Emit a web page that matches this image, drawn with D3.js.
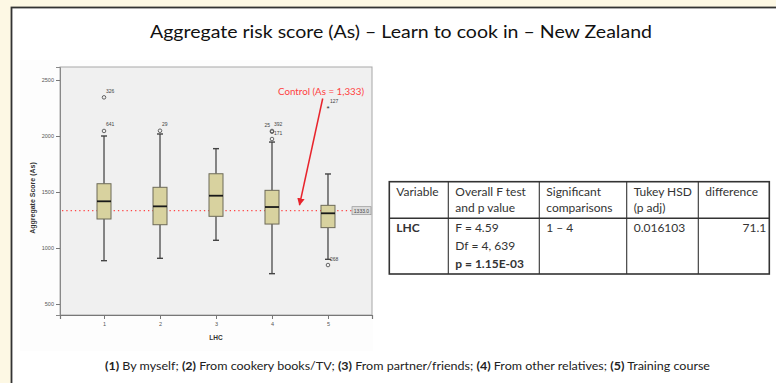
<!DOCTYPE html>
<html><head><meta charset="utf-8">
<script src="https://cdn.jsdelivr.net/npm/d3@7/dist/d3.min.js"></script>
<style>html,body{margin:0;padding:0;background:#fdf8e4;}svg{display:block;}</style>
</head><body>
<svg id="c" width="776" height="383"></svg>
<script>
// ---- data ----
const titleText = "Aggregate risk score (As) \u2013 Learn to cook in \u2013 New Zealand";
const categories = ["1", "2", "3", "4", "5"];
const q1 = [1259, 1208, 1283, 1214, 1182];
const medians = [1417, 1372, 1467, 1366, 1310];
const q3 = [1574, 1542, 1663, 1515, 1381];
const whiskerLow = [887, 908, 1069, 771, 899];
const whiskerHigh = [2000, 2018, 1887, 1946, 1661];
const outlierCats = ["1", "1", "2", "4", "4", "4", "5", "5"];
const outlierValues = [2345, 2045, 2047, 2045, 2038, 1973, 848, 2253];
const outlierLabels = ["326", "641", "29", "392", "25", "171", "268", "127"];
const outlierKinds = ["o", "o", "o", "o", "o", "o", "o", "*"];
const yTicks = [500, 1000, 1500, 2000, 2500];
const controlValue = 1333;
const controlLabel = "Control (As = 1,333)";
const yAxisTitle = "Aggregate Score (As)";
const xAxisTitle = "LHC";
const tableHeader = [["Variable"], ["Overall F test", "and p value"], ["Significant", "comparisons"], ["Tukey HSD", "(p adj)"], ["difference"]];
const tableRow = [["LHC"], ["F = 4.59", "Df = 4, 639", "p = 1.15E-03"], ["1 \u2013 4"], ["0.016103"], ["71.1"]];
const footerParts = [["(1)", " By myself; "], ["(2)", " From cookery books/TV; "], ["(3)", " From partner/friends; "], ["(4)", " From other relatives; "], ["(5)", " Training course"]];

// ---- drawing ----
(function () {
const svg = d3.select("#c");
const sans = "'Liberation Sans', Arial, sans-serif";
const cal = "Lato, 'Open Sans', sans-serif";

// panel
svg.append("rect").attr("x", 11.5).attr("y", 7.5).attr("width", 800).attr("height", 400)
  .attr("fill", "#ffffff").attr("stroke", "#333").attr("stroke-width", 1.8);
svg.append("rect").attr("x", 20).attr("y", 60).attr("width", 353).attr("height", 291).attr("fill", "#fdfdfd");

// title
svg.append("text").attr("x", 401).attr("y", 38).attr("text-anchor", "middle")
  .attr("font-family", cal).attr("font-size", 18).attr("fill", "#111")
  .attr("textLength", 502).attr("lengthAdjust", "spacingAndGlyphs").text(titleText);

const pLeft = 60, pRight = 372, pTop = 67, pBottom = 315;
const x = d3.scalePoint().domain(categories).range([pLeft, pRight]).padding(0.786);
const y = d3.scaleLinear().domain([402, 2616]).range([pBottom, pTop]);

svg.append("rect").attr("x", pLeft).attr("y", pTop).attr("width", pRight - pLeft).attr("height", pBottom - pTop)
  .attr("fill", "#f0f0f0").attr("stroke", "#a8a8a8").attr("stroke-width", 1);

// axes
const yAxis = svg.append("g").attr("transform", `translate(${pLeft},0)`)
  .call(d3.axisLeft(y).tickValues(yTicks).tickFormat(d3.format("d")).tickSize(4).tickPadding(2));
yAxis.select(".domain").attr("stroke", "#888");
yAxis.selectAll(".tick line").attr("stroke", "#777");
yAxis.selectAll("text").attr("font-family", sans).attr("font-size", 5.5).attr("fill", "#555");

const xAxis = svg.append("g").attr("transform", `translate(0,${pBottom})`)
  .call(d3.axisBottom(x).tickSize(4).tickPadding(3));
xAxis.select(".domain").attr("stroke", "#777").attr("stroke-width", 1.2);
xAxis.selectAll(".tick line").attr("stroke", "#777");
xAxis.selectAll("text").attr("font-family", sans).attr("font-size", 5.5).attr("fill", "#555");

svg.append("text").attr("transform", `translate(35,${(y(1000) + y(2000)) / 2 + 6}) rotate(-90)`)
  .attr("text-anchor", "middle").attr("font-family", sans).attr("font-weight", "bold")
  .attr("font-size", 7).attr("fill", "#333").text(yAxisTitle);
svg.append("text").attr("x", x("3")).attr("y", 340).attr("text-anchor", "middle")
  .attr("font-family", sans).attr("font-weight", "bold").attr("font-size", 6.5).attr("fill", "#333").text(xAxisTitle);

// control reference line
svg.append("line").attr("x1", pLeft + 2).attr("x2", 352).attr("y1", y(controlValue)).attr("y2", y(controlValue))
  .attr("stroke", "#ff4545").attr("stroke-width", 1.3).attr("stroke-dasharray", "1.3,3");
svg.append("rect").attr("x", 352).attr("y", y(controlValue) - 4).attr("width", 19).attr("height", 8)
  .attr("fill", "#dcdcdc").attr("stroke", "#8a8a8a").attr("stroke-width", 0.6);
svg.append("text").attr("x", 361.5).attr("y", y(controlValue) + 2).attr("text-anchor", "middle")
  .attr("font-family", sans).attr("font-size", 5).attr("fill", "#444").text(d3.format(".1f")(controlValue));

// boxes
const bw = 14, cw = 6;
categories.forEach((c, i) => {
  const cx = x(c);
  const g = svg.append("g");
  g.append("line").attr("x1", cx).attr("x2", cx).attr("y1", y(whiskerLow[i])).attr("y2", y(q1[i]))
    .attr("stroke", "#555").attr("stroke-width", 1.4);
  g.append("line").attr("x1", cx).attr("x2", cx).attr("y1", y(q3[i])).attr("y2", y(whiskerHigh[i]))
    .attr("stroke", "#555").attr("stroke-width", 1.4);
  [whiskerLow[i], whiskerHigh[i]].forEach(v => g.append("line").attr("x1", cx - cw / 2).attr("x2", cx + cw / 2)
    .attr("y1", y(v)).attr("y2", y(v)).attr("stroke", "#444").attr("stroke-width", 1.4));
  g.append("rect").attr("x", cx - bw / 2).attr("y", y(q3[i])).attr("width", bw).attr("height", y(q1[i]) - y(q3[i]))
    .attr("fill", "#d8d29f").attr("stroke", "#6d6a58").attr("stroke-width", 1);
  g.append("line").attr("x1", cx - bw / 2).attr("x2", cx + bw / 2).attr("y1", y(medians[i])).attr("y2", y(medians[i]))
    .attr("stroke", "#1a1a1a").attr("stroke-width", 1.8);
});

// outliers
outlierValues.forEach((v, i) => {
  const cx = x(outlierCats[i]), cy = y(v);
  if (outlierKinds[i] === "*") {
    svg.append("text").attr("x", cx).attr("y", cy + 3).attr("text-anchor", "middle")
      .attr("font-family", sans).attr("font-size", 8).attr("fill", "#333").text("*");
  } else {
    svg.append("circle").attr("cx", cx).attr("cy", cy).attr("r", 1.8)
      .attr("fill", "none").attr("stroke", "#555").attr("stroke-width", 0.9);
  }
  const leftSide = outlierLabels[i] === "25";
  svg.append("text").attr("x", leftSide ? cx - 2 : cx + 2).attr("y", cy - 4.5)
    .attr("text-anchor", leftSide ? "end" : "start")
    .attr("font-family", sans).attr("font-size", 5).attr("fill", "#444").text(outlierLabels[i]);
});

// annotation
svg.append("defs").append("marker").attr("id", "ah").attr("viewBox", "0 0 10 10").attr("refX", 9).attr("refY", 5)
  .attr("markerWidth", 5).attr("markerHeight", 5).attr("orient", "auto")
  .append("path").attr("d", "M0,0L10,5L0,10z").attr("fill", "#e8242c");
svg.append("text").attr("x", 321).attr("y", 95).attr("text-anchor", "middle")
  .attr("font-family", cal).attr("font-size", 9).attr("fill", "#ff4040")
  .attr("textLength", 86).attr("lengthAdjust", "spacingAndGlyphs").text(controlLabel);
svg.append("line").attr("x1", 322.7).attr("y1", 98.5).attr("x2", 299.5).attr("y2", 205)
  .attr("stroke", "#e8242c").attr("stroke-width", 1.5).attr("marker-end", "url(#ah)");

// table
const colX = [389.3, 448.3, 539.3, 626.7, 698.3, 769.3];
const tTop = 181.7, tMid = 218.3, tBot = 274;
const tb = svg.append("g");
tb.append("rect").attr("x", colX[0]).attr("y", tTop).attr("width", colX[5] - colX[0]).attr("height", tBot - tTop)
  .attr("fill", "#fff").attr("stroke", "#333").attr("stroke-width", 1.6);
tb.append("line").attr("x1", colX[0]).attr("x2", colX[5]).attr("y1", tMid).attr("y2", tMid).attr("stroke", "#333").attr("stroke-width", 1.6);
colX.slice(1, 5).forEach(cx => tb.append("line").attr("x1", cx).attr("x2", cx).attr("y1", tTop).attr("y2", tBot)
  .attr("stroke", "#333").attr("stroke-width", 1.1));
tableHeader.forEach((lines, j) => lines.forEach((t, k) => tb.append("text").attr("x", colX[j] + 7).attr("y", tTop + 14 + k * 16.6)
  .attr("font-family", cal).attr("font-size", 12).attr("fill", "#333").text(t)));
tableRow.forEach((lines, j) => lines.forEach((t, k) => {
  const last = j === 4;
  tb.append("text").attr("x", last ? colX[5] - 3 : colX[j] + 7).attr("y", tMid + 14 + k * 18)
    .attr("text-anchor", last ? "end" : "start")
    .attr("font-family", cal).attr("font-size", 12).attr("fill", "#333")
    .attr("font-weight", (j === 0 || (j === 1 && k === 2)) ? "bold" : "normal").text(t);
}));

// footer
const ft = svg.append("text").attr("x", 105).attr("y", 370).attr("font-family", cal).attr("font-size", 11)
  .attr("fill", "#222").attr("textLength", 605).attr("lengthAdjust", "spacingAndGlyphs");
footerParts.forEach(p => {
  ft.append("tspan").attr("font-weight", "bold").text(p[0]);
  ft.append("tspan").text(p[1]);
});
})();
</script>
</body></html>
